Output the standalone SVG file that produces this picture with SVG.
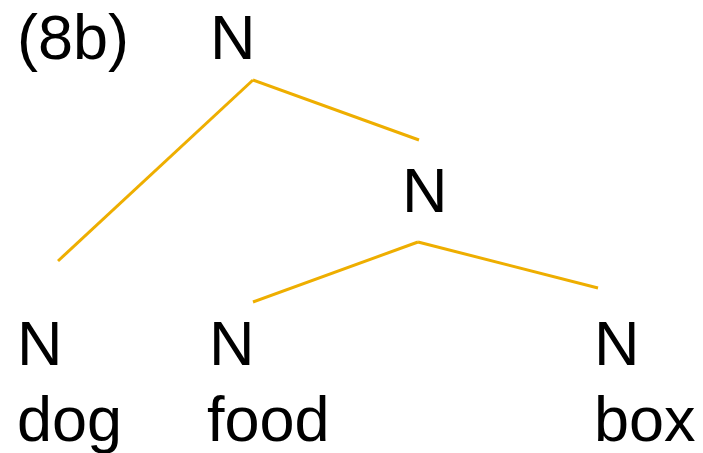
<svg xmlns="http://www.w3.org/2000/svg" width="703" height="453" viewBox="0 0 703 453">
<style>
text{font-family:"Liberation Sans",Arial,sans-serif;font-size:63px;fill:#000}
.e{stroke:#EEAE00;stroke-width:3;fill:none;stroke-linecap:butt}
</style>
<rect width="703" height="453" fill="#fff"/>
<text x="17" y="59">(8b)</text>
<g id="connectors">
<line class="e" x1="253" y1="80" x2="58" y2="261"/>
<line class="e" x1="253" y1="80" x2="419" y2="140"/>
<line class="e" x1="418" y1="242" x2="253" y2="302"/>
<line class="e" x1="418" y1="242" x2="598" y2="288"/>
</g>
<g id="n-root"><text x="210" y="59">N</text></g>
<g id="n-mid"><text x="402" y="212">N</text></g>
<g id="n-dog"><text x="17" y="365">N</text><text x="17" y="441">dog</text></g>
<g id="n-food"><text x="209" y="365">N</text><text x="207" y="441">food</text></g>
<g id="n-box"><text x="594" y="365">N</text><text x="594" y="441">box</text></g>
</svg>
